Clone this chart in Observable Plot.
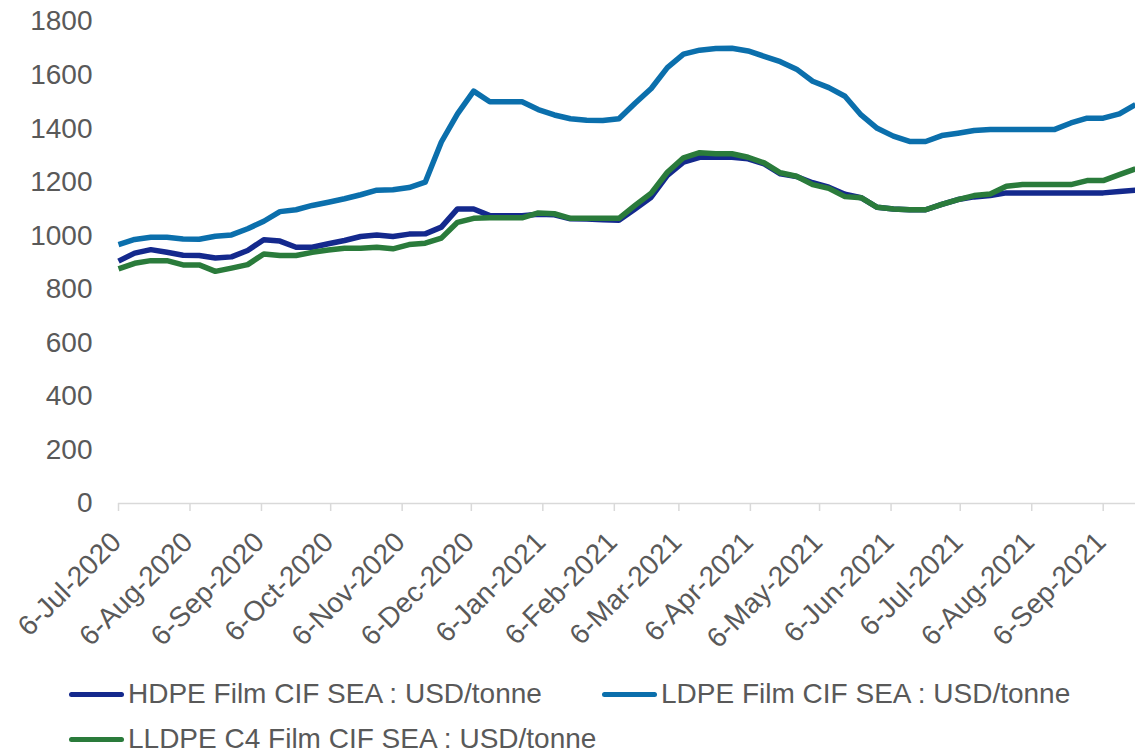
<!DOCTYPE html>
<html>
<head>
<meta charset="utf-8">
<script src="https://cdn.jsdelivr.net/npm/d3@7"></script>
<script src="https://cdn.jsdelivr.net/npm/@observablehq/plot@0.6"></script>
<style>
  html, body { margin: 0; padding: 0; background: #fff; }
  #wrap { position: relative; width: 1135px; height: 753px; overflow: hidden; font-family: "Liberation Sans", Arial, sans-serif; color: #595959; }
  #chart svg { display: block; }
  .leg { position: absolute; display: flex; align-items: center; font-size: 28px; white-space: nowrap; line-height: 1; }
  .sw { width: 55px; height: 5px; border-radius: 3px; margin-right: 4px; }
</style>
</head>
<body>
<div id="wrap">
  <div id="chart"></div>
  <div id="legend"></div>
</div>
<script>
// Weekly observations starting Monday 6-Jul-2020
const startDate = "2020-07-06";
const weekCount = 64;

const seriesNames = [
  "HDPE Film CIF SEA : USD/tonne",
  "LDPE Film CIF SEA : USD/tonne",
  "LLDPE C4 Film CIF SEA : USD/tonne"
];
const seriesColors = ["#14298d", "#0b6fac", "#2a7b3b"];

const hdpe = [905, 935, 948, 938, 927, 926, 917, 921, 945, 985, 980, 957, 957, 970, 982, 997,
  1003, 997, 1006, 1007, 1032, 1100, 1100, 1075, 1075, 1075, 1080, 1078, 1063, 1062, 1060, 1058,
  1100, 1144, 1225, 1275, 1293, 1293, 1293, 1287, 1268, 1231, 1221, 1198, 1181, 1155, 1142, 1106,
  1100, 1097, 1097, 1117, 1135, 1145, 1150, 1160, 1160, 1160, 1160, 1160, 1160, 1160, 1165, 1170];

const ldpe = [967, 986, 994, 994, 988, 987, 998, 1003, 1026, 1054, 1090, 1097, 1113, 1125, 1138, 1153,
  1170, 1172, 1180, 1200, 1350, 1455, 1540, 1500, 1500, 1500, 1471, 1451, 1437, 1431, 1430, 1437,
  1495, 1550, 1628, 1678, 1693, 1699, 1700, 1690, 1670, 1650, 1622, 1577, 1553, 1521, 1451, 1401,
  1372, 1352, 1352, 1374, 1383, 1393, 1397, 1397, 1397, 1397, 1397, 1421, 1439, 1439, 1455, 1490];

const lldpe = [876, 897, 907, 907, 891, 891, 867, 879, 892, 932, 926, 926, 938, 947, 953, 953,
  957, 951, 967, 972, 991, 1050, 1065, 1067, 1067, 1067, 1085, 1082, 1065, 1065, 1065, 1065,
  1113, 1159, 1237, 1291, 1310, 1306, 1306, 1293, 1272, 1235, 1222, 1191, 1177, 1146, 1142, 1106,
  1100, 1097, 1097, 1117, 1135, 1150, 1156, 1185, 1191, 1191, 1191, 1191, 1206, 1206, 1228, 1250];

const tickLabels = ["6-Jul-2020", "6-Aug-2020", "6-Sep-2020", "6-Oct-2020", "6-Nov-2020", "6-Dec-2020",
  "6-Jan-2021", "6-Feb-2021", "6-Mar-2021", "6-Apr-2021", "6-May-2021", "6-Jun-2021",
  "6-Jul-2021", "6-Aug-2021", "6-Sep-2021"];
const yTicks = [0, 200, 400, 600, 800, 1000, 1200, 1400, 1600, 1800];

const parseLabel = d3.utcParse("%d-%b-%Y");
const fmtLabel = d => `${d.getUTCDate()}-${d3.utcFormat("%b-%Y")(d)}`;
const tickDates = tickLabels.map(parseLabel);

const t0 = new Date(startDate + "T00:00:00Z");
const dates = d3.range(weekCount).map(i => d3.utcDay.offset(t0, 7 * i));

const valuesBySeries = [hdpe, ldpe, lldpe];
const rows = [];
[1, 0, 2].forEach(si => {
  valuesBySeries[si].forEach((v, i) => rows.push({series: seriesNames[si], date: dates[i], value: v}));
});

const chart = Plot.plot({
  width: 1135,
  height: 665,
  marginLeft: 118,
  marginRight: 0,
  marginTop: 21,
  marginBottom: 162,
  style: {fontFamily: "'Liberation Sans', Arial, sans-serif", color: "#595959", background: "#fff", overflow: "visible"},
  x: {type: "utc", domain: [dates[0], dates[dates.length - 1]]},
  y: {domain: [0, 1800]},
  color: {domain: seriesNames, range: seriesColors},
  marks: [
    Plot.axisY({ticks: yTicks, tickFormat: d => String(d), tickSize: 0, tickPadding: 26, fontSize: 28, label: null, fill: "#595959"}),
    Plot.ruleY([0], {stroke: "#d9d9d9", strokeWidth: 1.5}),
    Plot.axisX({ticks: tickDates, tickFormat: null, text: null, tickSize: 8, label: null, stroke: "#d9d9d9", strokeWidth: 1.5}),
    Plot.axisX({ticks: tickDates, tickFormat: fmtLabel, tickRotate: -45, tickSize: 0, tickPadding: 34, dx: -2,
      fontSize: 28, label: null, fill: "#595959"}),
    Plot.line(rows, {x: "date", y: "value", z: "series", stroke: "series", strokeWidth: 5.5,
      strokeLinejoin: "round", strokeLinecap: "butt"})
  ]
});
document.getElementById("chart").appendChild(chart);

// Legend (HTML, below the SVG)
const legendPos = [
  {left: 69, top: 694},
  {left: 602, top: 694},
  {left: 69, top: 739}
];
const legend = document.getElementById("legend");
seriesNames.forEach((name, i) => {
  const item = document.createElement("div");
  item.className = "leg";
  item.style.left = legendPos[i].left + "px";
  item.style.top = (legendPos[i].top - 14) + "px";
  item.style.height = "28px";
  const sw = document.createElement("span");
  sw.className = "sw";
  sw.style.background = seriesColors[i];
  const tx = document.createElement("span");
  tx.textContent = name;
  item.appendChild(sw);
  item.appendChild(tx);
  legend.appendChild(item);
});
</script>
</body>
</html>
